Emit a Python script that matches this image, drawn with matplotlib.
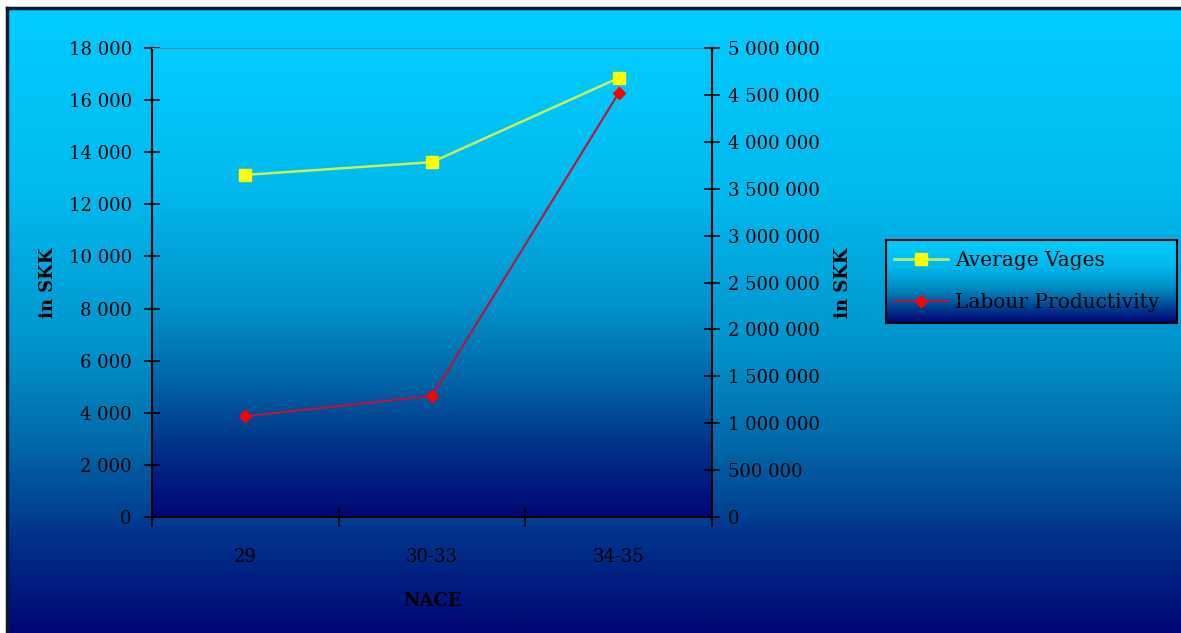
import numpy as np
import matplotlib
matplotlib.use('Agg')
import matplotlib.pyplot as plt
from matplotlib.colors import LinearSegmentedColormap
from matplotlib.ticker import FuncFormatter

categories = ['29', '30-33', '34-35']
average_vages = [13130, 13620, 16850]
labour_productivity = [1075000, 1290000, 4520000]

left_ticks = np.arange(0, 18001, 2000)
right_ticks = np.arange(0, 5000001, 500000)

FONT = 'DejaVu Serif'
FS = 13

grad = LinearSegmentedColormap.from_list('bg', [
    (0.0, '#00CCFF'), (0.3, '#00BAEE'), (0.55, '#0092CA'),
    (0.7, '#0068A8'), (0.85, '#00328A'), (1.0, '#000675')])
gimg = np.linspace(0, 1, 256).reshape(-1, 1)


def space_thousands(v, pos=None):
    return '{:,.0f}'.format(v).replace(',', ' ')


W, H = 1181, 633
fig = plt.figure(figsize=(W / 100, H / 100), dpi=100)
fig.patch.set_facecolor('white')

# chart area background
bg = fig.add_axes([7 / W, 0, 1 - 7 / W, 1 - 8 / H])
bg.imshow(gimg, aspect='auto', cmap=grad, extent=[0, 1, 0, 1], origin='upper')
bg.set_xticks([])
bg.set_yticks([])
for side in ['right', 'bottom']:
    bg.spines[side].set_visible(False)
for side in ['top', 'left']:
    bg.spines[side].set_color('#0a1a2a')
    bg.spines[side].set_linewidth(2.5)

# plot area
ax = fig.add_axes([152 / W, 1 - 517 / H, 560 / W, 469 / H])
ax.imshow(gimg, aspect='auto', cmap=grad, extent=[-0.5, 2.5, 0, 18000],
          origin='upper', zorder=0)
x = np.arange(len(categories))
ax.plot(x, average_vages, color='#c8f05a', lw=1.8, marker='s', ms=9,
        mfc='#ffff00', mec='#ffff00', zorder=3, label='Average Vages')
ax.set_xlim(-0.5, 2.5)
ax.set_ylim(0, 18000)
ax.set_yticks(left_ticks)
ax.yaxis.set_major_formatter(FuncFormatter(space_thousands))
ax.set_xticks([-0.5, 0.5, 1.5, 2.5])
ax.set_xticklabels([])
ax.set_xticks(x, minor=True)
ax.set_xticklabels(categories, minor=True, fontfamily=FONT, fontsize=FS)
ax.tick_params(axis='x', which='minor', length=0, pad=22)
ax.tick_params(axis='x', which='major', direction='inout', length=14, width=1.2)
ax.tick_params(axis='y', direction='inout', length=11, width=1.2, pad=9)
for lab in ax.get_yticklabels():
    lab.set_fontfamily(FONT)
    lab.set_fontsize(FS)
ax.spines['top'].set_color('#4f8fa8')
ax.spines['right'].set_visible(False)
for side in ['left', 'bottom']:
    ax.spines[side].set_linewidth(1.5)
ax.set_ylabel('in SKK', fontfamily=FONT, fontsize=FS, fontweight='bold', labelpad=8)
ax.set_xlabel('NACE', fontfamily=FONT, fontsize=FS, fontweight='bold', labelpad=19)

ax2 = ax.twinx()
ax2.plot(x, labour_productivity, color='#c01040', lw=1.5, marker='D', ms=6.5,
         mfc='#ff0000', mec='#ff0000', zorder=3, label='Labour Productivity')
ax2.set_ylim(0, 5000000)
ax2.set_yticks(right_ticks)
ax2.yaxis.set_major_formatter(FuncFormatter(space_thousands))
ax2.tick_params(axis='y', direction='inout', length=11, width=1.2, pad=6)
for lab in ax2.get_yticklabels():
    lab.set_fontfamily(FONT)
    lab.set_fontsize(FS)
for side in ['top', 'left', 'bottom']:
    ax2.spines[side].set_visible(False)
ax2.spines['right'].set_linewidth(1.5)
ax2.set_ylabel('in SKK', fontfamily=FONT, fontsize=FS, fontweight='bold',
               rotation=90, labelpad=10)

# legend box with its own gradient
lax = fig.add_axes([886 / W, 1 - 323 / H, 291 / W, 83 / H])
lax.imshow(gimg, aspect='auto', cmap=grad, extent=[0, 1, 0, 1], origin='upper')
lax.set_xticks([])
lax.set_yticks([])
for sp in lax.spines.values():
    sp.set_color('black')
    sp.set_linewidth(1.5)
h1, l1 = ax.get_legend_handles_labels()
h2, l2 = ax2.get_legend_handles_labels()
leg = lax.legend(h1 + h2, l1 + l2, loc='center left', frameon=False,
                 prop={'family': FONT, 'size': 14.5}, handlelength=2.7,
                 handletextpad=0.35, labelspacing=1.1, borderaxespad=0,
                 bbox_to_anchor=(0.0, 0.5))

fig.savefig('out.png', dpi=100)
